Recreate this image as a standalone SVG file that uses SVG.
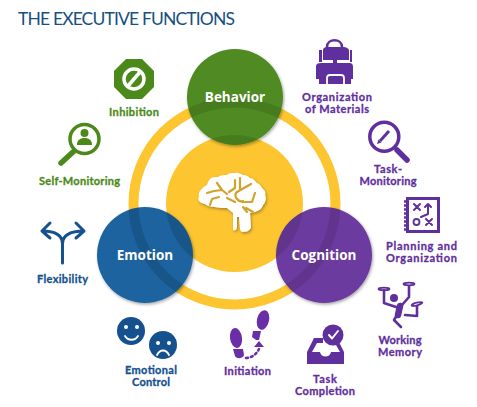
<svg xmlns="http://www.w3.org/2000/svg" width="477" height="407" viewBox="0 0 477 407">
<defs>
<style>
.t{font-family:"Lato","Liberation Sans",sans-serif;font-weight:700;font-size:11px;text-anchor:middle;stroke-width:.3px}
.g{fill:#4b8a1a}.b{fill:#15508f}.p{fill:#5f2f9e}
.t.g{stroke:#4b8a1a}.t.b{stroke:#15508f}.t.p{stroke:#5f2f9e}
.c{font-family:"Open Sans","Liberation Sans",sans-serif;font-weight:700;font-size:13.5px;fill:#fff;text-anchor:middle}
.k{stroke-linecap:round;stroke-linejoin:round;fill:none}
</style>
<filter id="s" x="-20%" y="-20%" width="140%" height="140%"><feDropShadow dx="1" dy="1.5" stdDeviation="1.5" flood-color="#000" flood-opacity=".35"/></filter>
<clipPath id="c1"><circle cx="235" cy="97" r="48"/></clipPath>
<clipPath id="c2"><circle cx="145" cy="255" r="48"/></clipPath>
<clipPath id="c3"><circle cx="324" cy="255" r="48"/></clipPath>
<g id="under"><circle cx="234.500" cy="203.500" r="101" fill="none" stroke="#000" stroke-width="10"/><circle cx="234.500" cy="203.500" r="68.500" fill="#000"/></g>
</defs>
<rect width="477" height="407" fill="#fff"/>
<text x="18" y="24.500" font-family="Lato,'Liberation Sans',sans-serif" font-size="17.500" fill="#17507f" textLength="217">THE EXECUTIVE FUNCTIONS</text>

<g id="connectors"><circle cx="234.500" cy="203.500" r="101" fill="none" stroke="#fdc530" stroke-width="10"/></g>

<g id="core"><circle cx="234.500" cy="203.500" r="68.500" fill="#fdc530"/>
<path filter="url(#s)" fill="#fff" d="M233 230V213L227 208C223 208 219 208 215 207C211 207 207 206 205 204C200 203 197 200 199 197C198 193 200 190 202 189C203 187 205 186 207 185C208 182 209 180 210 179C212 177 215 177 218 177C221 175 224 175 227 175C229 173 232 173 235 173C238 172 241 174 243 175C246 175 248 176 250 178C253 178 255 181 257 183C260 184 261 186 262 188C265 190 266 193 265 195C267 199 265 203 263 205C262 209 258 211 255 212L250 213L251 228C249 231 246 232 243 232C241 232 240 230 240 228L239 217L237 217V226C237 229 236 231 233 230Z"/>
<path fill="none" stroke="#d0a42c" stroke-width="2.200" stroke-linecap="round" stroke-linejoin="round" d="M207 193L214 191L222 190L217 183M222 190L227 194M210 205L212 199L219 197M235 180V188L229 192M251 184L244 188L237 192C233 195 238 203 243 201M240 178V189M227 198L235 202M242 202L252 202L255 193M243 207L247 212M246 208L253 212"/>
</g>

<g id="behavior"><circle cx="235" cy="97" r="48" fill="#4f8a20" filter="url(#s)"/><g clip-path="url(#c1)"><use href="#under" opacity=".1"/></g><text class="c" x="235" y="102">Behavior</text></g>
<g id="emotion"><circle cx="145" cy="255" r="48" fill="#1f649f" filter="url(#s)"/><g clip-path="url(#c2)"><use href="#under" opacity=".13"/></g><text class="c" x="145" y="260">Emotion</text></g>
<g id="cognition"><circle cx="324" cy="255" r="48" fill="#6c3a9f" filter="url(#s)"/><g clip-path="url(#c3)"><use href="#under" opacity=".1"/></g><text class="c" x="324" y="260">Cognition</text></g>

<g id="inhibition"><path class="g" d="M126 59H142L154 71V87L142 99H126L114 87V71Z"/><circle cx="134" cy="79" r="10" fill="none" stroke="#fff" stroke-width="3.500"/><path d="M128 86L140 72" stroke="#fff" stroke-width="3.500"/><text class="t g" x="134" y="116" textLength="50">Inhibition</text></g>

<g id="self-monitoring"><circle cx="84.500" cy="139" r="14.500" fill="#fff" stroke="#4b8a1a" stroke-width="3.500"/><path class="k" stroke="#4b8a1a" stroke-width="5.500" d="M73 152L61 163"/><circle class="g" cx="84.500" cy="133" r="4"/><path class="g" d="M77 145C77 140 80 138 84.500 138C89 138 92 140 92 145Z"/><text class="t g" x="79.500" y="184.500" textLength="81">Self-Monitoring</text></g>

<g id="flexibility"><path class="k" stroke="#15508f" stroke-width="3" d="M62.500 263V244C62.500 235 55 231 42 231M50 223L42 231L50 238M62.500 244C62.500 235 70 231 84 231M76 223L84 231L76 238"/><text class="t b" x="62.500" y="283" textLength="51">Flexibility</text></g>

<g id="emotional-control"><circle class="b" cx="131" cy="331" r="14"/><circle class="b" cx="163" cy="345" r="14"/><g fill="#fff"><circle cx="126" cy="327" r="2"/><circle cx="137" cy="327" r="2"/><circle cx="158" cy="343" r="2"/><circle cx="169" cy="343" r="2"/></g><path class="k" stroke="#fff" stroke-width="1.800" d="M125 336C128 341 135 341 138 336M157 355C160 349 166 349 169 355"/><text class="t b" x="151" y="374" textLength="52">Emotional</text><text class="t b" x="151" y="386" textLength="38">Control</text></g>

<g id="initiation"><g fill="#6a2fa8"><ellipse cx="236" cy="338" rx="6" ry="10" transform="rotate(-8 236 338)"/><path d="M233 349H243L244 355C243 359 236 359 235 356Z"/><ellipse cx="263" cy="320" rx="6" ry="10" transform="rotate(14 263 320)"/><path d="M253 331H261L259 340H256L252 337Z"/><path d="M259 341L264 347H254Z"/></g><path class="k" stroke="#6a2fa8" stroke-width="2.500" stroke-dasharray="2 3" d="M246 358C251 358 256 355 259 349"/><text class="t p" x="247.500" y="375" textLength="47">Initiation</text></g>

<g id="task-completion"><circle class="p" cx="333" cy="335" r="10.500"/><path class="k" stroke="#fff" stroke-width="2" d="M329 335L332 338.500L338 331"/><path class="p" d="M307 364V352L314 338H323V343H317L312 352H320C321 358 330 358 331 352H340L336 345L339 342L344 352V364Z"/><text class="t p" x="325" y="383" textLength="24">Task</text><text class="t p" x="325" y="395" textLength="60">Completion</text></g>

<g id="working-memory"><circle class="p" cx="394" cy="298" r="4"/><path class="k" stroke="#5f2f9e" stroke-width="2.600" d="M384 290L384 303L396 307M409 286V297L402 305M417 306V316L405 315M397 315L394 320L401 327"/><path class="k" stroke="#5f2f9e" stroke-width="6.500" d="M400 306L398 315"/><g class="k" stroke="#5f2f9e" stroke-width="1.800"><ellipse cx="384" cy="289" rx="5.500" ry="1.300"/><ellipse cx="409" cy="284" rx="5.500" ry="1.300"/><ellipse cx="417" cy="304" rx="5.500" ry="1.300" transform="rotate(-15 417 304)"/></g><text class="t p" x="400" y="344" textLength="43">Working</text><text class="t p" x="400" y="356" textLength="44">Memory</text></g>

<g id="planning"><rect x="407.500" y="198.500" width="31" height="33" fill="#fff" stroke="#5f2f9e" stroke-width="3"/><path class="k" stroke="#5f2f9e" stroke-width="2" stroke-dasharray="1 3" d="M405 201V231"/><path class="k" stroke="#5f2f9e" stroke-width="2" d="M414 204L420 210M420 204L414 210M426 219L432 225M432 219L426 225M421 217L428 214V204M425 207L428 204L431 207"/><circle cx="416.500" cy="222" r="3" fill="none" stroke="#5f2f9e" stroke-width="1.800"/><text class="t p" x="421.500" y="249.500" textLength="71">Planning and</text><text class="t p" x="421.500" y="262" textLength="71">Organization</text></g>

<g id="task-monitoring"><circle cx="384.300" cy="136.700" r="14.500" fill="#fff" stroke="#5f2f9e" stroke-width="3.500"/><path class="k" stroke="#5f2f9e" stroke-width="5.500" d="M397 150L407 160"/><path stroke="#5f2f9e" stroke-width="3" d="M380 141L389 131"/><path class="p" d="M377 144L378.500 139.500L381.500 142.500Z"/><text class="t p" x="388" y="173" textLength="28">Task-</text><text class="t p" x="388" y="185" textLength="57">Monitoring</text></g>

<g id="organization-of-materials"><path class="k" stroke="#5f2f9e" stroke-width="2.600" d="M327 49V47C327 38 342 38 342 47V49"/><path class="p" d="M323 50C323 48 325 47 327 47H343C346 47 349 48 349 51V60H323Z"/><path class="p" d="M319 50H322V62H319ZM350 50H352V62H350Z"/><path class="p" d="M316 66C316 64 318 63 321 63H333V60H337V63H349C352 63 353 64 353 67V79H351V84H319V79H316Z"/><path fill="none" stroke="#fff" stroke-width="1.800" d="M327 84V78C327 76 328 75 330 75H341C343 75 344 76 344 78V84"/><text class="t p" x="337" y="100.500" textLength="70">Organization</text><text class="t p" x="337" y="113" textLength="64">of Materials</text></g>
</svg>
